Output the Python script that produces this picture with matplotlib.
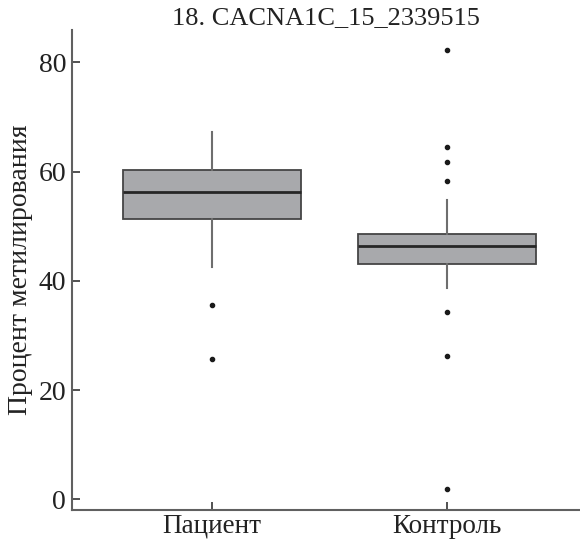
import matplotlib
matplotlib.use("Agg")
import matplotlib.pyplot as plt

# данные
groups = ["Пациент", "Контроль"]
q1 = [51.3, 43.0]
med = [56.3, 46.3]
q3 = [60.3, 48.5]
whislo = [42.6, 38.7]
whishi = [67.2, 54.8]
outliers = [
    [35.6, 25.6],
    [82.3, 64.5, 61.7, 58.2, 34.3, 26.2, 1.9],
]
yticks = [0, 20, 40, 60, 80]

plt.rcParams["font.family"] = ["Liberation Serif", "DejaVu Serif"]

stats = []
for i, g in enumerate(groups):
    stats.append({"label": g, "q1": q1[i], "med": med[i], "q3": q3[i],
                  "whislo": whislo[i], "whishi": whishi[i], "fliers": outliers[i]})

fig = plt.figure(figsize=(5.8, 5.42), dpi=100)
ax = fig.add_axes([0.1236, 0.0596, 0.8764, 0.885])

ax.bxp(stats, positions=[0, 1], widths=0.755, patch_artist=True, showcaps=False,
       boxprops=dict(facecolor="#a8a9ac", edgecolor="#454545", linewidth=1.3),
       medianprops=dict(color="#262626", linewidth=2.0),
       whiskerprops=dict(color="#6e6e6e", linewidth=1.5),
       flierprops=dict(marker="o", markersize=3.0, markerfacecolor="#1a1a1a",
                       markeredgecolor="#1a1a1a"))

ax.set_xlim(-0.594, 1.563)
ax.set_ylim(-1.9, 85.9)
ax.set_yticks(yticks)
ax.set_xticks([0, 1])
ax.set_xticklabels(groups)

for s in ["top", "right"]:
    ax.spines[s].set_visible(False)
for s in ["left", "bottom"]:
    ax.spines[s].set_color("#606060")
    ax.spines[s].set_linewidth(1.5)

ax.tick_params(direction="in", length=6, width=1.2, color="#333333",
               labelsize=20, labelcolor="#222222", pad=4)
ax.tick_params(axis="x", pad=3, labelsize=19.5)

ax.set_ylabel("Процент метилирования", fontsize=20, color="#222222", labelpad=4)
ax.set_title("18. CACNA1C_15_2339515", fontsize=19, color="#222222", pad=4)

fig.savefig("out.png", dpi=100)
